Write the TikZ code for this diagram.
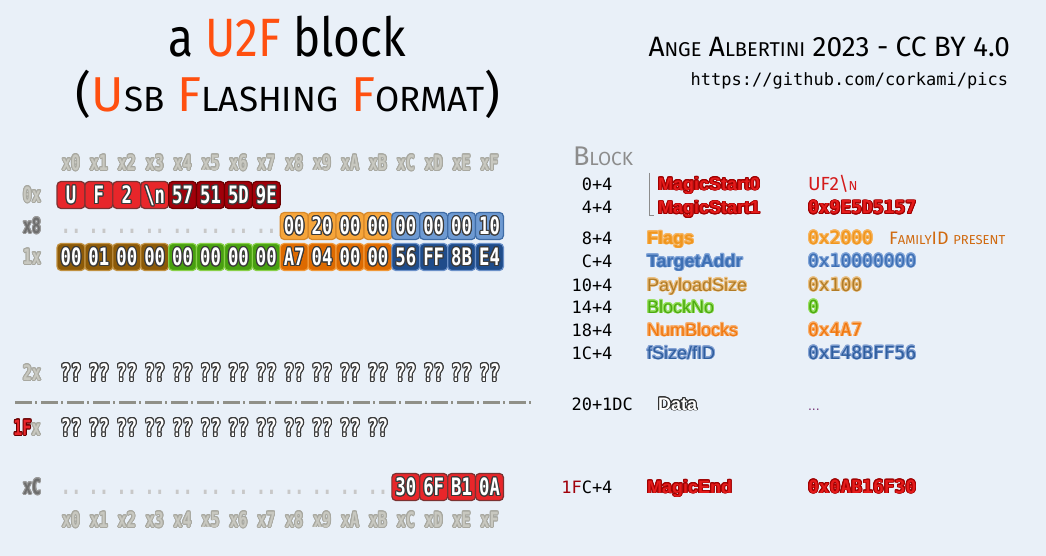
\documentclass[tikz,border=0pt]{standalone}
\usepackage{fontspec}
\usepackage[copies]{contour}
\setmainfont{Fira Sans}
\newfontfamily\handfont{Fira Sans}[FakeStretch=0.85]
\newfontfamily\hexfont{DejaVu Sans Mono}[FakeStretch=0.72]
\newfontfamily\offsetfont{DejaVu Sans Mono}
\newfontfamily\namefont{Liberation Sans}
\contourlength{0.9pt}
\contournumber{16}

\definecolor{bg}{HTML}{E9F0F8}
\definecolor{titleorange}{HTML}{FF5010}
% cell fills and rims
\definecolor{magic}{HTML}{E8262A}     \definecolor{magicline}{HTML}{7A3232}
\definecolor{sig}{HTML}{A0000A}       \definecolor{sigline}{HTML}{6A0000}
\definecolor{flags}{HTML}{F6A53A}     \definecolor{flagsline}{HTML}{D8892A}
\definecolor{target}{HTML}{6E9AD2}    \definecolor{targetline}{HTML}{3F6CA6}
\definecolor{payload}{HTML}{8C5A08}   \definecolor{payloadline}{HTML}{C09040}
\definecolor{blockno}{HTML}{48A010}   \definecolor{blocknoline}{HTML}{88D048}
\definecolor{numblocks}{HTML}{DD6A00} \definecolor{numblocksline}{HTML}{F09838}
\definecolor{fsize}{HTML}{1F4C8A}     \definecolor{fsizeline}{HTML}{6A90C8}
\definecolor{edge}{HTML}{3A3A3A}
% labels
\definecolor{hdr}{HTML}{C8C8C0}       \definecolor{hdrline}{HTML}{A8A8A0}
\definecolor{darklabel}{HTML}{6E6E6E} \definecolor{darkline}{HTML}{9A9A9A}
\definecolor{dots}{HTML}{C8C8C8}
\definecolor{dashgray}{HTML}{909088}
\definecolor{blockgray}{HTML}{8C8C8C}
% field texts
\definecolor{magictxt}{HTML}{E41B1B}     \definecolor{magicrim}{HTML}{A00000}
\definecolor{flagstxt}{HTML}{F0961E}     \definecolor{flagsrim}{HTML}{F7B560}
\definecolor{targettxt}{HTML}{3E70B4}    \definecolor{targetrim}{HTML}{80A4D8}
\definecolor{payloadtxt}{HTML}{B07C28}   \definecolor{payloadrim}{HTML}{ECC080}
\definecolor{blocknotxt}{HTML}{4CAA10}   \definecolor{blocknorim}{HTML}{98E060}
\definecolor{numblockstxt}{HTML}{F07810} \definecolor{numblocksrim}{HTML}{F8B070}
\definecolor{fsizetxt}{HTML}{2F5E9E}     \definecolor{fsizerim}{HTML}{84A2D4}
\definecolor{datatxt}{HTML}{FFFFFF}      \definecolor{datarim}{HTML}{303030}
\definecolor{noteorange}{HTML}{D06A10}
\definecolor{notered}{HTML}{D41A1A}
\definecolor{ellipsis}{HTML}{7A3A7A}

\newcommand\capsz[2]{{\fontsize{#1}{#1}\selectfont #2}}

\begin{document}
\begin{tikzpicture}[x=1pt, y=-1pt,
        every node/.style={inner sep=0pt, outer sep=0pt},
        cell/.style={draw=#1line, fill=#1, line width=1.2pt, rounded corners=4pt,
            minimum width=27.9pt, minimum height=27pt, text height=17.5pt, text depth=0pt,
            text=white, font=\hexfont\bfseries\fontsize{24}{24}\selectfont},
        unknown/.style={text=white, font=\hexfont\bfseries\fontsize{24}{24}\selectfont},
        gap/.style={text=dots, font=\hexfont\bfseries\fontsize{24}{24}\selectfont},
        colhead/.style={text=hdr, font=\hexfont\bfseries\fontsize{21}{21}\selectfont},
        rowhead/.style={text=#1, font=\hexfont\bfseries\fontsize{21}{21}\selectfont},
        offset/.style={anchor=base west, font=\offsetfont\fontsize{17}{17}\selectfont},
        field/.style={anchor=base west, text=#1txt, font=\namefont\fontsize{18}{18}\selectfont},
        value/.style={anchor=base west, text=#1txt, font=\offsetfont\fontsize{18}{18}\selectfont}
    ]
    \fill[bg] (0,0) rectangle (1046,556);
    \useasboundingbox (0,0) rectangle (1046,556);

    % titles
    \node[anchor=base, font=\handfont\fontsize{54}{54}\selectfont] (title) at (287,57)
        {a \textcolor{titleorange}{U2F} block};
    \node[anchor=base, font=\fontsize{49}{49}\selectfont] (subtitle) at (288,112)
        {(\textcolor{titleorange}{U}\capsz{35}{SB} \textcolor{titleorange}{F}\capsz{35}{LASHING}
         \textcolor{titleorange}{F}\capsz{35}{ORMAT})};
    \node[anchor=base east, font=\fontsize{28}{28}\selectfont] (credit) at (1010,57)
        {A\capsz{20}{NGE} A\capsz{20}{LBERTINI} 2023 - CC BY 4.0};
    \node[anchor=base east, font=\offsetfont\fontsize{17}{17}\selectfont] (url) at (1008,86)
        {https://github.com/corkami/pics};

    % column headers
    \foreach \h [count=\k from 0] in {0,1,2,3,4,5,6,7,8,9,A,B,C,D,E,F} {
        \node[colhead] (top\h) at ({71+27.9*\k},163) {\contour{hdrline}{x\h}};
        \node[colhead] (bot\h) at ({71+27.9*\k},520) {\contour{hdrline}{x\h}};
    }

    % row labels
    \node[rowhead=hdr] (row0) at (32,195) {\contour{hdrline}{0x}};
    \node[rowhead=darklabel] (row8) at (32,226) {\contour{darkline}{x8}};
    \node[rowhead=hdr] (row1) at (32,257) {\contour{hdrline}{1x}};
    \node[rowhead=hdr] (row2) at (32,373) {\contour{hdrline}{2x}};
    \node[rowhead=hdr] (row1F) at (27,428) {{\color{magic}\contour{sigline}{1F}}\contour{hdrline}{x}};
    \node[rowhead=darklabel] (rowC) at (32,487) {\contour{darkline}{xC}};

    \contourlength{1.1pt}
    % row 0x
    \foreach \b [count=\k from 0] in {U,F,2,{\textbackslash n}}
        \node[cell=magic] (a\k) at ({71+27.9*\k},195) {\contour{edge}{\b}};
    \foreach \b [count=\k from 4] in {57,51,5D,9E}
        \node[cell=sig] (a\k) at ({71+27.9*\k},195) {\contour{edge}{\b}};

    % row x8
    \foreach \k in {0,...,7}
        \node[gap] (b\k) at ({71+27.9*\k},231) {..};
    \foreach \b [count=\k from 8] in {00,20,00,00}
        \node[cell=flags] (b\k) at ({71+27.9*\k},226) {\contour{edge}{\b}};
    \foreach \b [count=\k from 12] in {00,00,00,10}
        \node[cell=target] (b\k) at ({71+27.9*\k},226) {\contour{edge}{\b}};

    % row 1x
    \foreach \b [count=\k from 0] in {00,01,00,00}
        \node[cell=payload] (c\k) at ({71+27.9*\k},257) {\contour{edge}{\b}};
    \foreach \b [count=\k from 4] in {00,00,00,00}
        \node[cell=blockno] (c\k) at ({71+27.9*\k},257) {\contour{edge}{\b}};
    \foreach \b [count=\k from 8] in {A7,04,00,00}
        \node[cell=numblocks] (c\k) at ({71+27.9*\k},257) {\contour{edge}{\b}};
    \foreach \b [count=\k from 12] in {56,FF,8B,E4}
        \node[cell=fsize] (c\k) at ({71+27.9*\k},257) {\contour{edge}{\b}};

    % data rows
    \foreach \k in {0,...,15}
        \node[unknown] (d\k) at ({71+27.9*\k},373) {\contour{edge}{??}};
    \draw[dashgray, line width=3pt, dash pattern=on 17pt off 3pt on 2pt off 4pt] (15,402) -- (531,402);
    \foreach \k in {0,...,11}
        \node[unknown] (e\k) at ({71+27.9*\k},428) {\contour{edge}{??}};

    % row xC
    \foreach \k in {0,...,11}
        \node[gap] (f\k) at ({71+27.9*\k},492) {..};
    \foreach \b [count=\k from 12] in {30,6F,B1,0A}
        \node[cell=magic] (f\k) at ({71+27.9*\k},487) {\contour{edge}{\b}};
    \contourlength{0.9pt}

    % block structure
    \node[anchor=base west, text=blockgray, font=\fontsize{27}{27}\selectfont] (block) at (573,166)
        {B\capsz{19}{LOCK}};
    \draw[blockgray, line width=1pt] (649,173) -- (649,215) -- (654,215);

    \node[offset] (o0) at (592,190) {\llap{0}+4};
    \node[offset] (o4) at (592,214) {\llap{4}+4};
    \node[offset] (o8) at (592,244) {\llap{8}+4};
    \node[offset] (oC) at (592,267) {\llap{C}+4};
    \node[offset] (o10) at (592,291) {\llap{10}+4};
    \node[offset] (o14) at (592,313) {\llap{14}+4};
    \node[offset] (o18) at (592,336) {\llap{18}+4};
    \node[offset] (o1C) at (592,359) {\llap{1C}+4};
    \node[offset] (o20) at (592,410) {\llap{20}+1DC};
    \node[offset] (o1FC) at (592,493) {\llap{\textcolor{sig}{1F}C}+4};

    \node[field=magic] (magic0) at (658,190) {\bfseries\contour{magicrim}{MagicStart0}};
    \node[field=magic] (magic1) at (658,214) {\bfseries\contour{magicrim}{MagicStart1}};
    \node[field=flags] (flags) at (647,244) {\bfseries\contour{flagsrim}{Flags}};
    \node[field=target] (target) at (647,267) {\bfseries\contour{targetrim}{TargetAddr}};
    \node[field=payload] (payload) at (647,291) {\contour{payloadrim}{PayloadSize}};
    \node[field=blockno] (blockno) at (647,313) {\contour{blocknorim}{BlockNo}};
    \node[field=numblocks] (numblocks) at (647,336) {\contour{numblocksrim}{NumBlocks}};
    \node[field=fsize] (fsize) at (647,359) {\contour{fsizerim}{fSize/fID}};
    \node[field=data] (data) at (658,410) {\bfseries\contour{datarim}{Data}};
    \node[field=magic] (magicend) at (647,493) {\bfseries\contour{magicrim}{MagicEnd}};

    \node[anchor=base west, text=notered, font=\fontsize{19}{19}\selectfont] (v0) at (808,190)
        {UF2\textbackslash\capsz{13}{N}};
    \node[value=magic] (v4) at (808,214) {\bfseries\contour{magicrim}{0x9E5D5157}};
    \node[value=flags] (v8) at (808,244) {\contour{flagsrim}{0x2000}};
    \node[anchor=base west, text=noteorange, font=\fontsize{18}{18}\selectfont] (note) at (889,244)
        {F\capsz{13}{AMILY}ID \capsz{13}{PRESENT}};
    \node[value=target] (vC) at (808,267) {\contour{targetrim}{0x10000000}};
    \node[value=payload] (v10) at (808,291) {\contour{payloadrim}{0x100}};
    \node[value=blockno] (v14) at (808,313) {\contour{blocknorim}{0}};
    \node[value=numblocks] (v18) at (808,336) {\contour{numblocksrim}{0x4A7}};
    \node[value=fsize] (v1C) at (808,359) {\contour{fsizerim}{0xE48BFF56}};
    \node[anchor=base west, text=ellipsis, font=\namefont\fontsize{14}{14}\selectfont] (v20) at (808,410) {...};
    \node[value=magic] (v1FC) at (808,493) {\bfseries\contour{magicrim}{0x0AB16F30}};
\end{tikzpicture}
\end{document}
